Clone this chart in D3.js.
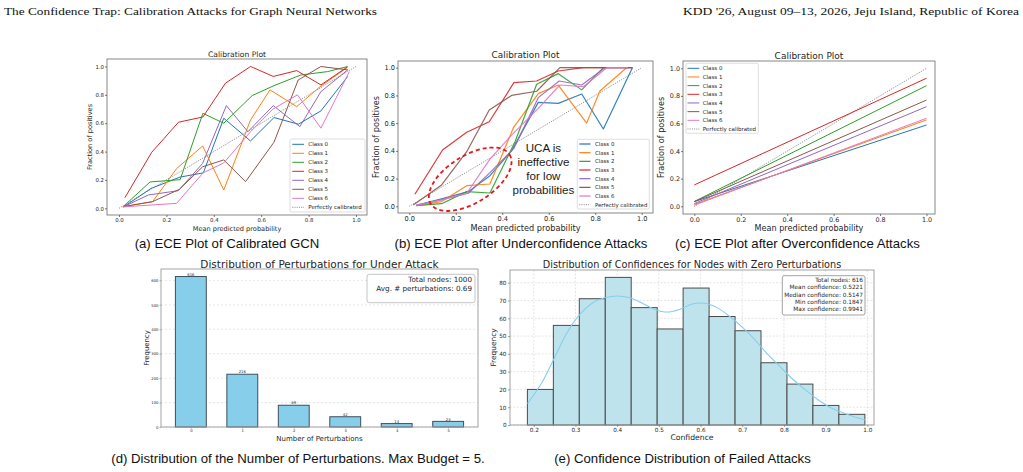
<!DOCTYPE html>
<html><head><meta charset="utf-8">
<script src="https://cdn.jsdelivr.net/npm/d3@7"></script>
<style>
html,body{margin:0;padding:0;background:#fff;}
svg{display:block;}
</style></head>
<body>
<svg id="fig" width="1023" height="472"></svg>
<script>
// ---------------- DATA ----------------
const headerLeft = "The Confidence Trap: Calibration Attacks for Graph Neural Networks";
const headerRight = "KDD '26, August 09\u201313, 2026, Jeju Island, Republic of Korea";

const classNames = ["Class 0","Class 1","Class 2","Class 3","Class 4","Class 5","Class 6"];
const perfectLabel = "Perfectly calibrated";
const calTicks = [0.0, 0.2, 0.4, 0.6, 0.8, 1.0];
const perfectLine = [[0,0],[1,1]];

// (a) calibrated GCN: [mean predicted probability, fraction of positives]
const calibratedGCN = [
  [[0.02,0.01],[0.135,0.14],[0.257,0.22],[0.356,0.25],[0.442,0.635],[0.555,0.475],[0.654,0.64],[0.757,0.593],[0.852,0.687],[0.965,0.93]],
  [[0.015,0.01],[0.142,0.047],[0.243,0.28],[0.353,0.44],[0.442,0.129],[0.555,0.623],[0.637,0.835],[0.75,0.717],[0.848,0.857],[0.965,0.995]],
  [[0.018,0.012],[0.131,0.186],[0.258,0.202],[0.354,0.67],[0.442,0.6],[0.562,0.795],[0.654,0.865],[0.767,0.94],[0.88,0.964],[0.965,1.0]],
  [[0.025,0.075],[0.138,0.395],[0.251,0.607],[0.354,0.644],[0.449,0.882],[0.555,1.0],[0.651,0.93],[0.75,0.971],[0.852,0.87],[0.962,0.995]],
  [[0.018,0.01],[0.124,0.094],[0.25,0.124],[0.353,0.317],[0.453,0.724],[0.544,0.54],[0.651,0.724],[0.763,0.576],[0.852,0.823],[0.965,0.976]],
  [[0.018,0.012],[0.142,0.047],[0.255,0.134],[0.353,0.293],[0.442,0.341],[0.534,0.188],[0.654,0.466],[0.756,0.905],[0.852,1.0],[0.965,0.976]],
  [[0.018,0.01],[0.135,0.023],[0.243,0.035],[0.355,0.25],[0.442,0.32],[0.555,0.54],[0.65,0.7],[0.753,0.8],[0.852,0.565],[0.972,0.964]]
];

// (b) after underconfidence attacks
const underAttack = [
  [[0.03,0.007],[0.139,0.053],[0.254,0.106],[0.347,0.221],[0.44,0.40],[0.555,0.75],[0.641,0.743],[0.742,0.81],[0.835,0.558],[0.96,1.0]],
  [[0.03,0.005],[0.139,0.034],[0.247,0.149],[0.347,0.161],[0.448,0.567],[0.555,0.813],[0.641,0.875],[0.763,0.6],[0.82,0.832],[0.935,1.0]],
  [[0.03,0.005],[0.139,0.019],[0.247,0.106],[0.347,0.096],[0.455,0.466],[0.548,0.88],[0.641,0.957],[0.742,0.84],[0.835,1.0]],
  [[0.024,0.087],[0.143,0.406],[0.247,0.534],[0.344,0.61],[0.45,0.892],[0.548,0.904],[0.641,0.976],[0.749,1.0],[0.84,1.0],[0.96,1.0]],
  [[0.03,0.007],[0.139,0.048],[0.254,0.094],[0.347,0.243],[0.45,0.418],[0.555,0.784],[0.645,0.904],[0.742,0.875],[0.842,1.0],[0.96,1.0]],
  [[0.017,0.01],[0.139,0.154],[0.247,0.394],[0.344,0.695],[0.44,0.8],[0.548,0.83],[0.648,1.0],[0.75,1.0],[0.85,1.0],[0.96,1.0]],
  [[0.03,0.007],[0.139,0.046],[0.247,0.094],[0.347,0.34],[0.44,0.514],[0.555,0.707],[0.648,0.875],[0.749,0.863],[0.85,1.0],[0.94,1.0]]
];
const ucaNoteLines = ["UCA is","ineffective","for low","probabilities"];
const ucaNoteAt = [0.577, 0.39];
const ucaEllipse = {cx:0.262, cy:0.195, rx:0.2, ry:0.17};

// (c) after overconfidence attacks
const overAttack = [
  [[0,0.034],[1,0.589]],
  [[0,0.014],[1,0.626]],
  [[0,0.035],[1,0.874]],
  [[0,0.155],[1,0.928]],
  [[0,0.02],[1,0.722]],
  [[0,0.034],[1,0.77]],
  [[0,0.008],[1,0.638]]
];

// (d) perturbations
const perturbCounts = [0,1,2,3,4,5];
const perturbFreq = [616,216,89,42,14,23];
const perturbYTicks = [0,100,200,300,400,500,600];
const perturbStats = ["Total nodes: 1000","Avg. # perturbations: 0.69"];

// (e) confidences
const confBinEdges = [0.1847,0.2470,0.3092,0.3715,0.4337,0.4960,0.5582,0.6205,0.6828,0.7450,0.8073,0.8695,0.9318,0.9941];
const confFreq = [20,56,71,83,66,54,77,61,53,35,23,11,6];
const kdeX = [0.185,0.22,0.25,0.28,0.31,0.34,0.37,0.40,0.43,0.46,0.49,0.52,0.55,0.58,0.61,0.64,0.67,0.70,0.73,0.76,0.79,0.82,0.85,0.88,0.91,0.94,0.97,0.994];
const kdeY = [12,24,38,52,62,68.5,71.5,72.5,71.5,68.5,65,63.5,65,68,68.5,66,61,55,48,40,33,26,20,14.5,10,7,4.5,3];
const confXTicks = [0.2,0.3,0.4,0.5,0.6,0.7,0.8,0.9,1.0];
const confYTicks = [0,10,20,30,40,50,60,70,80];
const confStats = ["Total nodes: 616","Mean confidence: 0.5221","Median confidence: 0.5147","Min confidence: 0.1847","Max confidence: 0.9941"];

const captions = [
  "(a) ECE Plot of Calibrated GCN",
  "(b) ECE Plot after Underconfidence Attacks",
  "(c) ECE Plot after Overconfidence Attacks",
  "(d) Distribution of the Number of Perturbations. Max Budget = 5.",
  "(e) Confidence Distribution of Failed Attacks"
];

// ---------------- STYLE ----------------
const palette = ["#1f77b4","#ff7f0e","#2ca02c","#d62728","#9467bd","#8c564b","#e377c2"];
const MPL = "'DejaVu Sans', sans-serif";
const ARIAL = "'Liberation Sans', Arial, sans-serif";
const SERIF = "'Liberation Serif', 'DejaVu Serif', serif";
const TXT = "#262626";

const svg = d3.select("#fig");

// header
svg.append("text").attr("x",4).attr("y",15).attr("font-family",SERIF).attr("font-size",11)
  .attr("textLength",373).attr("lengthAdjust","spacingAndGlyphs").attr("fill","#111").text(headerLeft);
svg.append("text").attr("x",1019).attr("y",15).attr("font-family",SERIF).attr("font-size",11)
  .attr("text-anchor","end").attr("textLength",336).attr("lengthAdjust","spacingAndGlyphs").attr("fill","#111").text(headerRight);

function styleAxis(sel, fs, color) {
  sel.select(".domain").remove();
  sel.selectAll(".tick line").attr("stroke", color || "#444").attr("stroke-width", 0.7);
  sel.selectAll(".tick text").attr("font-family", MPL).attr("font-size", fs).attr("fill", TXT);
}

function calibPanel(c) {
  const x = d3.scaleLinear().domain([0,1]).range([c.x0, c.x1]);
  const y = d3.scaleLinear().domain([0,1]).range([c.y0, c.y1]);
  const g = svg.append("g");
  g.append("rect").attr("x",c.fl).attr("y",c.ft).attr("width",c.fr-c.fl).attr("height",c.fb-c.ft)
    .attr("fill","none").attr("stroke","#7a7a7a").attr("stroke-width",0.9);
  const line = d3.line().x(d=>x(d[0])).y(d=>y(d[1]));
  g.append("path").attr("d", line(perfectLine)).attr("fill","none").attr("stroke","#555")
    .attr("stroke-width",0.7).attr("stroke-dasharray","1,1.2");
  c.data.forEach((s,i)=>{
    g.append("path").attr("d", line(s)).attr("fill","none").attr("stroke",palette[i])
      .attr("stroke-width",c.lw).attr("stroke-opacity",c.op||1).attr("stroke-linejoin","round");
  });
  const ax = g.append("g").attr("transform",`translate(0,${c.fb})`)
    .call(d3.axisBottom(x).tickValues(calTicks).tickFormat(d3.format(".1f")).tickSize(c.tk).tickPadding(c.tp));
  styleAxis(ax, c.tf);
  const ay = g.append("g").attr("transform",`translate(${c.fl},0)`)
    .call(d3.axisLeft(y).tickValues(calTicks).tickFormat(d3.format(".1f")).tickSize(c.tk).tickPadding(c.tp));
  styleAxis(ay, c.tf);
  const cx = (c.fl+c.fr)/2, cy = (c.ft+c.fb)/2;
  g.append("text").attr("x",cx).attr("y",c.titleY).attr("text-anchor","middle").attr("font-family",MPL)
    .attr("font-size",c.titleF).attr("fill",TXT).text("Calibration Plot");
  g.append("text").attr("x",cx).attr("y",c.xlabY).attr("text-anchor","middle").attr("font-family",MPL)
    .attr("font-size",c.labF).attr("fill",TXT).text("Mean predicted probability");
  g.append("text").attr("transform",`translate(${c.ylabX},${cy}) rotate(-90)`).attr("text-anchor","middle")
    .attr("font-family",MPL).attr("font-size",c.labF).attr("fill",TXT).text("Fraction of positives");
  const L = c.leg;
  g.append("rect").attr("x",L.x).attr("y",L.y).attr("width",L.w).attr("height",L.h).attr("rx",1.5)
    .attr("fill","#fff").attr("fill-opacity",0.85).attr("stroke","#d0d0d0").attr("stroke-width",0.7);
  const labels = classNames.concat([perfectLabel]);
  labels.forEach((lab,i)=>{
    const ry = L.r0 + i*L.step;
    const ln = g.append("line").attr("x1",L.lx1).attr("x2",L.lx2).attr("y1",ry).attr("y2",ry)
      .attr("stroke", i<7 ? palette[i] : "#555").attr("stroke-width", i<7 ? c.lw : 0.7);
    if (i===7) ln.attr("stroke-dasharray","1,1.2");
    g.append("text").attr("x",L.tx).attr("y",ry).attr("dy","0.35em").attr("font-family",MPL)
      .attr("font-size",L.f).attr("fill",TXT).text(lab);
  });
  return {x,y,g};
}

// (a)
calibPanel({data:calibratedGCN, x0:119, x1:356, y0:208.3, y1:66.5, fl:107, fr:367, ft:59, fb:215,
  lw:1, tk:2, tp:1, tf:5.4, titleF:7.6, labF:6.6, titleY:56.7, xlabY:230.5, ylabX:91.5,
  leg:{x:290, y:139, w:75, h:73, r0:144.3, step:9, lx1:292.3, lx2:304, tx:308.3, f:5.5}});

// (b)
const pb = calibPanel({data:underAttack, x0:409.3, x1:641.7, y0:206.3, y1:67.7, fl:398, fr:653, ft:61, fb:213,
  lw:1.2, op:0.9, tk:2, tp:1, tf:6.6, titleF:8.9, labF:8.2, titleY:58.4, xlabY:231, ylabX:378.7,
  leg:{x:577.3, y:139.3, w:72, h:69.7, r0:144, step:8.67, lx1:579.3, lx2:590.5, tx:595, f:5.4}});
{
  const ex = pb.x(ucaEllipse.cx), ey = pb.y(ucaEllipse.cy);
  const rx = pb.x(ucaEllipse.rx) - pb.x(0), ry = pb.y(0) - pb.y(ucaEllipse.ry);
  pb.g.append("ellipse").attr("cx",ex).attr("cy",ey).attr("rx",rx).attr("ry",ry)
    .attr("transform",`rotate(-32,${ex},${ey})`).attr("fill","none").attr("stroke","#e8151b")
    .attr("stroke-width",1.8).attr("stroke-dasharray","4,3");
  const tx = pb.x(ucaNoteAt[0]), ty = pb.y(ucaNoteAt[1]);
  ucaNoteLines.forEach((t,i)=>{
    pb.g.append("text").attr("x",tx).attr("y",ty + i*13.9).attr("text-anchor","middle")
      .attr("font-family",ARIAL).attr("font-size",11.6).attr("fill","#1a1a1a").text(t);
  });
}

// (c)
calibPanel({data:overAttack, x0:694.3, x1:926.5, y0:206.3, y1:68.3, fl:683, fr:935, ft:61, fb:214,
  lw:1, tk:2, tp:1, tf:6.4, titleF:9, labF:8.1, titleY:59, xlabY:231, ylabX:664.2,
  leg:{x:686, y:63.3, w:72.3, h:70, r0:68.3, step:8.67, lx1:687.5, lx2:699.3, tx:702.7, f:5.5}});

// (d)
{
  const g = svg.append("g");
  const fl=161, fr=478, ft=269, fb=427;
  const x = d3.scaleLinear().domain([-0.58,5.58]).range([fl,fr]);
  const y = d3.scaleLinear().domain([0,646.8]).range([fb,ft]);
  perturbYTicks.forEach(t=>{
    g.append("line").attr("x1",fl).attr("x2",fr).attr("y1",y(t)).attr("y2",y(t))
      .attr("stroke","#d9d9d9").attr("stroke-width",0.6).attr("stroke-dasharray","2,2");
  });
  const bw = x(0.6)-x(0);
  perturbCounts.forEach((c,i)=>{
    g.append("rect").attr("x",x(c-0.3)).attr("y",y(perturbFreq[i])).attr("width",bw)
      .attr("height",y(0)-y(perturbFreq[i])).attr("fill","#87ceeb").attr("stroke","#3d4f5c").attr("stroke-width",1);
    g.append("text").attr("x",x(c)).attr("y",y(perturbFreq[i])-0.8).attr("text-anchor","middle")
      .attr("font-family",MPL).attr("font-size",3.8).attr("fill",TXT).text(perturbFreq[i]);
  });
  g.append("rect").attr("x",fl).attr("y",ft).attr("width",fr-fl).attr("height",fb-ft)
    .attr("fill","none").attr("stroke","#9a9a9a").attr("stroke-width",0.9);
  const ax = g.append("g").attr("transform",`translate(0,${fb})`)
    .call(d3.axisBottom(x).tickValues(perturbCounts).tickFormat(d3.format("d")).tickSize(1.5).tickPadding(1.2));
  styleAxis(ax, 3.8, "#888");
  const ay = g.append("g").attr("transform",`translate(${fl},0)`)
    .call(d3.axisLeft(y).tickValues(perturbYTicks).tickFormat(d3.format("d")).tickSize(1.5).tickPadding(1));
  styleAxis(ay, 3.8, "#888");
  g.append("text").attr("x",(fl+fr)/2).attr("y",267.5).attr("text-anchor","middle").attr("font-family",MPL)
    .attr("font-size",10.5).attr("fill",TXT).text("Distribution of Perturbations for Under Attack");
  g.append("text").attr("x",(fl+fr)/2).attr("y",441.3).attr("text-anchor","middle").attr("font-family",MPL)
    .attr("font-size",7).attr("fill",TXT).text("Number of Perturbations");
  g.append("text").attr("transform",`translate(148.5,${(ft+fb)/2}) rotate(-90)`).attr("text-anchor","middle")
    .attr("font-family",MPL).attr("font-size",6.9).attr("fill",TXT).text("Frequency");
  g.append("rect").attr("x",367).attr("y",274.3).attr("width",108).attr("height",28.4).attr("rx",2.5)
    .attr("fill","#fff").attr("stroke","#b5b5b5").attr("stroke-width",0.8);
  perturbStats.forEach((t,i)=>{
    g.append("text").attr("x",472).attr("y",282.3+i*8.4).attr("text-anchor","end").attr("font-family",MPL)
      .attr("font-size",7.2).attr("fill",TXT).text(t);
  });
}

// (e)
{
  const g = svg.append("g");
  const fl=510, fr=874, ft=270, fb=425;
  const x = d3.scaleLinear().domain([0.143,1.016]).range([fl,fr]);
  const y = d3.scaleLinear().domain([0,87.15]).range([fb,ft]);
  confXTicks.forEach(t=>{
    g.append("line").attr("x1",x(t)).attr("x2",x(t)).attr("y1",ft).attr("y2",fb)
      .attr("stroke","#d4d4d4").attr("stroke-width",0.6).attr("stroke-dasharray","2,1.5");
  });
  confYTicks.forEach(t=>{
    g.append("line").attr("x1",fl).attr("x2",fr).attr("y1",y(t)).attr("y2",y(t))
      .attr("stroke","#d4d4d4").attr("stroke-width",0.6).attr("stroke-dasharray","2,1.5");
  });
  confFreq.forEach((f,i)=>{
    g.append("rect").attr("x",x(confBinEdges[i])).attr("y",y(f)).attr("width",x(confBinEdges[i+1])-x(confBinEdges[i]))
      .attr("height",y(0)-y(f)).attr("fill","#bfe3ed").attr("stroke","#4b4b4b").attr("stroke-width",1);
  });
  const kde = d3.line().x((d,i)=>x(kdeX[i])).y(d=>y(d)).curve(d3.curveCatmullRom);
  g.append("path").attr("d",kde(kdeY)).attr("fill","none").attr("stroke","#87ceeb").attr("stroke-width",1.1);
  g.append("rect").attr("x",fl).attr("y",ft).attr("width",fr-fl).attr("height",fb-ft)
    .attr("fill","none").attr("stroke","#9a9a9a").attr("stroke-width",0.9);
  const ax = g.append("g").attr("transform",`translate(0,${fb})`)
    .call(d3.axisBottom(x).tickValues(confXTicks).tickFormat(d3.format(".1f")).tickSize(2).tickPadding(1.2));
  styleAxis(ax, 5.7, "#777");
  const ay = g.append("g").attr("transform",`translate(${fl},0)`)
    .call(d3.axisLeft(y).tickValues(confYTicks).tickFormat(d3.format("d")).tickSize(2).tickPadding(1.5));
  styleAxis(ay, 5.7, "#777");
  g.append("text").attr("x",(fl+fr)/2).attr("y",267.5).attr("text-anchor","middle").attr("font-family",MPL)
    .attr("font-size",9.7).attr("fill",TXT).text("Distribution of Confidences for Nodes with Zero Perturbations");
  g.append("text").attr("x",(fl+fr)/2).attr("y",440).attr("text-anchor","middle").attr("font-family",MPL)
    .attr("font-size",7.7).attr("fill",TXT).text("Confidence");
  g.append("text").attr("transform",`translate(495.5,${(ft+fb)/2}) rotate(-90)`).attr("text-anchor","middle")
    .attr("font-family",MPL).attr("font-size",7.4).attr("fill",TXT).text("Frequency");
  g.append("rect").attr("x",782.3).attr("y",275.7).attr("width",82.7).attr("height",39.3).attr("rx",2)
    .attr("fill","#fff").attr("stroke","#8a8a8a").attr("stroke-width",0.8);
  confStats.forEach((t,i)=>{
    g.append("text").attr("x",863).attr("y",282+i*7.3).attr("text-anchor","end").attr("font-family",MPL)
      .attr("font-size",5.8).attr("fill",TXT).text(t);
  });
}

// captions
const capPos = [[227,247.5],[521,247.5],[797.5,247.5],[298,463],[682.5,463]];
captions.forEach((t,i)=>{
  svg.append("text").attr("x",capPos[i][0]).attr("y",capPos[i][1]).attr("text-anchor","middle")
    .attr("font-family",ARIAL).attr("font-size",13.2).attr("fill","#111").text(t);
});
</script>
</body></html>
